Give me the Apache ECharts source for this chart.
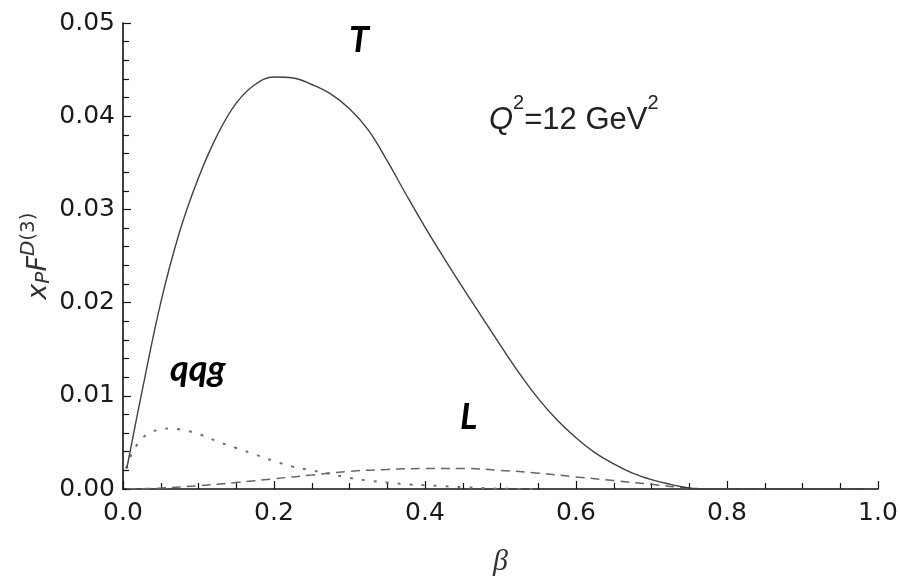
<!DOCTYPE html>
<html>
<head>
<meta charset="utf-8">
<script src="https://cdn.jsdelivr.net/npm/echarts@6/dist/echarts.min.js"></script>
<style>
  html, body { margin: 0; padding: 0; background: #fff; }
  #chart { width: 900px; height: 577px; }
</style>
</head>
<body>
<div id="chart"></div>
<script>
// ---- data ----
const xTicks = [0.0, 0.2, 0.4, 0.6, 0.8, 1.0];
const yTicks = [0.00, 0.01, 0.02, 0.03, 0.04, 0.05];

// T (transverse) - solid
const betaT = [0.005, 0.025, 0.05, 0.075, 0.10, 0.125, 0.15, 0.175, 0.20, 0.225, 0.25, 0.275, 0.30, 0.325, 0.35, 0.375, 0.40, 0.425, 0.45, 0.475, 0.50, 0.525, 0.55, 0.575, 0.60, 0.625, 0.65, 0.675, 0.70, 0.725, 0.75, 0.775, 0.80, 0.98];
const valT  = [0.0022, 0.0104, 0.0200, 0.0276, 0.0334, 0.0380, 0.0414, 0.0434, 0.0442, 0.0441, 0.0434, 0.0424, 0.0408, 0.0385, 0.0352, 0.0316, 0.0281, 0.0248, 0.0216, 0.0185, 0.0154, 0.0124, 0.0097, 0.0074, 0.0055, 0.0039, 0.0027, 0.0017, 0.0010, 0.0005, 0.0001, 0.0, 0.0, 0.0];

// qqg - dotted
const betaQ = [0.004, 0.0125, 0.025, 0.0375, 0.05, 0.0625, 0.075, 0.10, 0.125, 0.15, 0.175, 0.20, 0.225, 0.25, 0.275, 0.30, 0.325, 0.35, 0.375, 0.40, 0.425, 0.45, 0.475, 0.50, 0.55];
const valQ  = [0.0022, 0.0039, 0.0054, 0.0061, 0.0064, 0.0065, 0.0064, 0.0059, 0.0051, 0.0044, 0.0037, 0.0030, 0.0024, 0.0020, 0.0016, 0.0012, 0.0009, 0.0007, 0.0005, 0.0004, 0.0003, 0.0002, 0.0001, 0.00003, 0.0];

// L (longitudinal) - dashed
const betaL = [0.005, 0.05, 0.10, 0.15, 0.20, 0.25, 0.30, 0.35, 0.40, 0.45, 0.50, 0.55, 0.60, 0.65, 0.70, 0.75, 0.80, 0.976];
const valL  = [0.0, 0.0001, 0.00035, 0.0007, 0.0011, 0.0015, 0.0019, 0.0021, 0.0022, 0.0022, 0.0020, 0.0017, 0.0013, 0.0009, 0.0005, 0.0001, 0.0, 0.0];

const seriesNames = ['T', 'qqg', 'L'];
const xName = 'β';

function pairs(xs, ys) { return xs.map((x, i) => [x, ys[i]]); }

const chart = echarts.init(document.getElementById('chart'), null, { renderer: 'canvas' });

const axisColor = '#111';
const tickFont = { fontFamily: 'DejaVu Sans', fontSize: 25, color: '#1a1a1a' };

const option = {
  backgroundColor: '#ffffff',
  animation: false,
  grid: { left: 123, right: 22, top: 23, bottom: 88, containLabel: false, outerBoundsMode: 'none' },
  xAxis: {
    type: 'value',
    min: xTicks[0], max: xTicks[xTicks.length - 1], interval: 0.2,
    name: xName,
    nameLocation: 'middle',
    nameGap: 58,
    nameMoveOverlap: false,
    nameTextStyle: { fontFamily: 'Liberation Serif', fontStyle: 'italic', fontSize: 30, color: '#333' },
    axisLine: { show: true, onZero: false, lineStyle: { color: axisColor, width: 1.6 } },
    axisTick: { show: true, inside: true, length: 8, lineStyle: { color: axisColor, width: 1.2 } },
    minorTick: { show: true, splitNumber: 4, length: 6, lineStyle: { color: axisColor, width: 1.2 } },
    splitLine: { show: false },
    minorSplitLine: { show: false },
    axisLabel: Object.assign({ margin: 12, formatter: v => v.toFixed(1) }, tickFont)
  },
  yAxis: {
    type: 'value',
    min: yTicks[0], max: yTicks[yTicks.length - 1], interval: 0.01,
    name: '{i|x}{sub|P}{i|F}{sup|D}{sup2|(3)}',
    nameLocation: 'middle',
    nameRotate: 90,
    nameGap: 64,
    nameMoveOverlap: false,
    nameTextStyle: {
      rich: {
        i: { fontFamily: 'DejaVu Sans', fontStyle: 'italic', fontSize: 27, lineHeight: 40, color: '#333' },
        sub: { fontFamily: 'DejaVu Sans', fontStyle: 'italic', fontSize: 20, height: 30, verticalAlign: 'bottom', color: '#333' },
        sup: { fontFamily: 'DejaVu Sans', fontStyle: 'italic', fontSize: 20, height: 20, verticalAlign: 'top', color: '#333' },
        sup2: { fontFamily: 'DejaVu Sans', fontSize: 20, height: 20, verticalAlign: 'top', color: '#333' }
      }
    },
    axisLine: { show: true, onZero: false, lineStyle: { color: axisColor, width: 1.6 } },
    axisTick: { show: true, inside: true, length: 8, lineStyle: { color: axisColor, width: 1.2 } },
    minorTick: { show: true, splitNumber: 5, length: 6, lineStyle: { color: axisColor, width: 1.2 } },
    splitLine: { show: false },
    minorSplitLine: { show: false },
    axisLabel: Object.assign({ margin: 8, formatter: v => v.toFixed(2) }, tickFont)
  },
  series: [
    {
      name: seriesNames[0], type: 'line', data: pairs(betaT, valT),
      smooth: 0.4, showSymbol: false, symbol: 'none', clip: true,
      lineStyle: { color: '#404040', width: 1.4, type: 'solid' }, z: 3
    },
    {
      name: seriesNames[1], type: 'line', data: pairs(betaQ, valQ),
      smooth: 0.4, showSymbol: false, symbol: 'none', clip: true,
      lineStyle: { color: '#707070', width: 2, type: [3, 9] }, z: 2
    },
    {
      name: seriesNames[2], type: 'line', data: pairs(betaL, valL),
      smooth: 0.4, showSymbol: false, symbol: 'none', clip: true,
      lineStyle: { color: '#666666', width: 1.5, type: [9, 6] }, z: 2
    }
  ],
  graphic: [
    {
      type: 'text', z: 10,
      style: { text: 'T', x: 349, y: 40, fontFamily: 'Lato', fontWeight: 'bold', fontStyle: 'italic', fontSize: 36, fill: '#000', verticalAlign: 'middle', align: 'left' }
    },
    {
      type: 'text', z: 10,
      style: { text: 'qqg', x: 170, y: 369, fontFamily: 'Lato', fontWeight: 'bold', fontStyle: 'italic', fontSize: 36, fill: '#000', verticalAlign: 'middle', align: 'left' }
    },
    {
      type: 'text', z: 10,
      style: { text: 'L', x: 460, y: 417, fontFamily: 'Lato', fontWeight: 'bold', fontStyle: 'italic', fontSize: 36, fill: '#000', verticalAlign: 'middle', align: 'left' }
    },
    {
      type: 'text', z: 10,
      style: {
        text: '{q|Q}{s|2}{n|=12 GeV}{s|2}',
        x: 489, y: 120, verticalAlign: 'middle', align: 'left',
        rich: {
          q: { fontFamily: 'Liberation Sans', fontStyle: 'italic', fontSize: 31, lineHeight: 54, fill: '#222' },
          n: { fontFamily: 'Liberation Sans', fontSize: 31, lineHeight: 54, fill: '#222' },
          s: { fontFamily: 'Liberation Sans', fontSize: 20, height: 20, verticalAlign: 'top', fill: '#222' }
        }
      }
    }
  ]
};

chart.setOption(option);
</script>
</body>
</html>
